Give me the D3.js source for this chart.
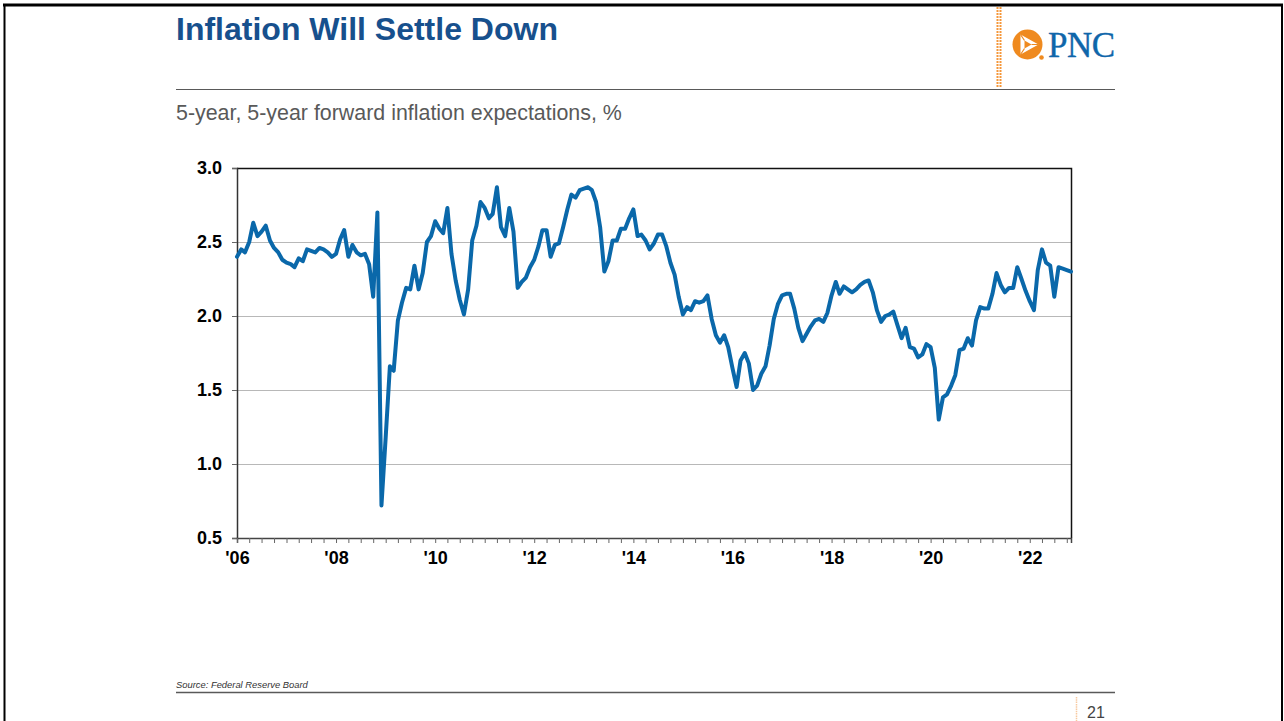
<!DOCTYPE html>
<html>
<head>
<meta charset="utf-8">
<script src="https://cdn.jsdelivr.net/npm/d3@7/dist/d3.min.js"></script>
<style>
  html, body { margin: 0; padding: 0; background: #fff; }
  svg { display: block; }
  text { font-family: "Liberation Sans", Arial, sans-serif; }
</style>
</head>
<body>
<svg id="chart" width="1284" height="721"></svg>
<script>
// ---------------- DATA ----------------
const startYear = 2006;
// Monthly 5y5y forward inflation expectations, Jan 2006 .. Nov 2022 (%)
const values = [
  2.40, 2.45, 2.43, 2.50, 2.63, 2.54, 2.57, 2.61, 2.51, 2.46, 2.43, 2.38,
  2.36, 2.35, 2.33, 2.39, 2.37, 2.45, 2.44, 2.43, 2.46, 2.45, 2.43, 2.40,
  2.42, 2.52, 2.58, 2.40, 2.48, 2.43, 2.41, 2.42, 2.35, 2.13, 2.70, 0.72,
  1.18, 1.66, 1.63, 1.97, 2.09, 2.19, 2.18, 2.34, 2.18, 2.29, 2.50, 2.54,
  2.64, 2.59, 2.56, 2.73, 2.42, 2.24, 2.11, 2.01, 2.18, 2.51, 2.61, 2.77,
  2.73, 2.66, 2.69, 2.87, 2.60, 2.54, 2.73, 2.57, 2.19, 2.23, 2.26, 2.33,
  2.38, 2.47, 2.58, 2.58, 2.40, 2.48, 2.49, 2.60, 2.72, 2.82, 2.80, 2.85,
  2.86, 2.87, 2.85, 2.77, 2.60, 2.30, 2.37, 2.51, 2.51, 2.59, 2.59, 2.66,
  2.72, 2.54, 2.55, 2.51, 2.45, 2.49, 2.55, 2.55, 2.47, 2.36, 2.28, 2.13,
  2.01, 2.06, 2.04, 2.10, 2.09, 2.10, 2.14, 1.98, 1.87, 1.82, 1.87, 1.79,
  1.65, 1.52, 1.70, 1.75, 1.68, 1.50, 1.53, 1.61, 1.66, 1.80, 1.98, 2.08,
  2.14, 2.15, 2.15, 2.05, 1.92, 1.83, 1.88, 1.93, 1.97, 1.98, 1.96, 2.02,
  2.14, 2.23, 2.15, 2.20, 2.18, 2.16, 2.18, 2.21, 2.23, 2.24, 2.16, 2.04,
  1.96, 2.00, 2.01, 2.03, 1.94, 1.85, 1.92, 1.79, 1.78, 1.72, 1.74, 1.81,
  1.79, 1.65, 1.30, 1.45, 1.47, 1.53, 1.60, 1.77, 1.78, 1.85, 1.80, 1.97,
  2.06, 2.05, 2.05, 2.15, 2.29, 2.21, 2.16, 2.19, 2.19, 2.33, 2.25, 2.17,
  2.10, 2.04, 2.31, 2.45, 2.36, 2.34, 2.13, 2.33, 2.32, 2.31, 2.30
];
const yTicks = [0.5, 1.0, 1.5, 2.0, 2.5, 3.0];
const xTickYears = [2006, 2008, 2010, 2012, 2014, 2016, 2018, 2020, 2022];
const xTickLabels = ["'06", "'08", "'10", "'12", "'14", "'16", "'18", "'20", "'22"];
const titleText = "Inflation Will Settle Down";
const subtitleText = "5-year, 5-year forward inflation expectations, %";
const sourceText = "Source: Federal Reserve Board";
const pageNumber = "21";

// ---------------- LAYOUT ----------------
const svg = d3.select("#chart");
const W = 1284, H = 721;
const plot = { left: 237, right: 1071, top: 168, bottom: 538 };

const data = values.map((v, i) => ({ date: new Date(startYear, i, 1), value: v }));

const x = d3.scaleTime()
  .domain([data[0].date, data[data.length - 1].date])
  .range([plot.left, plot.right]);
const y = d3.scaleLinear().domain([0.5, 3.0]).range([plot.bottom, plot.top]);

// slide border
svg.append("line").attr("x1", 3).attr("x2", 1283).attr("y1", 5).attr("y2", 5)
  .attr("stroke", "#000").attr("stroke-width", 3);
svg.append("line").attr("x1", 4.5).attr("x2", 4.5).attr("y1", 4).attr("y2", H)
  .attr("stroke", "#000").attr("stroke-width", 2);
svg.append("line").attr("x1", 1282).attr("x2", 1282).attr("y1", 4).attr("y2", H)
  .attr("stroke", "#000").attr("stroke-width", 2);

// title
svg.append("text").attr("x", 176).attr("y", 40)
  .attr("font-size", 32).attr("font-weight", "bold").attr("fill", "#17508d")
  .text(titleText);

// rule under title
svg.append("line").attr("x1", 176).attr("x2", 1115).attr("y1", 89.5).attr("y2", 89.5)
  .attr("stroke", "#595959").attr("stroke-width", 1.2);

// logo: dotted orange divider
[997.5, 1000.5].forEach(xx => {
  svg.append("line").attr("x1", xx).attr("x2", xx).attr("y1", 7).attr("y2", 87)
    .attr("stroke", "#f5973a").attr("stroke-width", 2).attr("stroke-dasharray", "2,1");
});
// logo mark
const lg = svg.append("g").attr("transform", "translate(1027.5,44.5)");
lg.append("circle").attr("r", 15).attr("fill", "#ef8a1f");
lg.append("path").attr("d", "M-7,-10 L11,0 L-7,10 Z").attr("fill", "#fff");
lg.append("path").attr("d", "M-3,-4 L4,0 L-3,4 Z").attr("fill", "#ef8a1f");
lg.append("path").attr("d", "M-7,-10 L-3,-4 M11,0 L4,0 M-7,10 L-3,4")
  .attr("stroke", "#ef8a1f").attr("stroke-width", 1.2);
lg.append("circle").attr("cx", 14).attr("cy", 13).attr("r", 2.3).attr("fill", "#ef8a1f");
svg.append("text").attr("x", 1048).attr("y", 57)
  .style("font-family", "'Liberation Serif', 'Times New Roman', serif")
  .attr("font-size", 35).attr("fill", "#0f66aa").attr("letter-spacing", "-0.5")
  .attr("stroke", "#0f66aa").attr("stroke-width", 0.4)
  .text("PNC");

// subtitle
svg.append("text").attr("x", 176).attr("y", 120)
  .attr("font-size", 21.4).attr("fill", "#595959")
  .text(subtitleText);

// gridlines
svg.append("g").selectAll("line")
  .data(yTicks.filter(t => t > 0.5 && t < 3.0))
  .join("line")
  .attr("x1", plot.left).attr("x2", plot.right)
  .attr("y1", d => Math.round(y(d)) + 0.5).attr("y2", d => Math.round(y(d)) + 0.5)
  .attr("stroke", "#b8b8b8").attr("stroke-width", 1.2);

// plot frame (top & right)
svg.append("path")
  .attr("d", `M${plot.left},${plot.top + 0.5} H${plot.right + 0.5} V${plot.bottom}`)
  .attr("fill", "none").attr("stroke", "#111").attr("stroke-width", 1.5);

// y axis
const yAxis = d3.axisLeft(y).tickValues(yTicks).tickFormat(d3.format(".1f"))
  .tickSize(5).tickPadding(10);
const gy = svg.append("g").attr("transform", `translate(${plot.left},0)`).call(yAxis);
gy.select(".domain").attr("stroke", "#333").attr("stroke-width", 1.5);
gy.selectAll(".tick line").attr("stroke", "#666");
gy.selectAll(".tick text").attr("font-size", 18).attr("font-weight", "bold")
  .attr("fill", "#000").style("font-family", "'Liberation Sans', Arial, sans-serif");

// x axis: quarterly minor ticks
const quarterTicks = d3.timeMonth.every(3).range(x.domain()[0], d3.timeMonth.offset(x.domain()[1], 1));
const xAxisMinor = d3.axisBottom(x).tickValues(quarterTicks).tickSize(5).tickFormat("");
const gxm = svg.append("g").attr("transform", `translate(0,${plot.bottom})`).call(xAxisMinor);
gxm.select(".domain").attr("stroke", "#444").attr("stroke-width", 1.5);
gxm.selectAll(".tick line").attr("stroke", "#666");

const xAxisLabels = d3.axisBottom(x)
  .tickValues(xTickYears.map(yr => new Date(yr, 0, 1)))
  .tickFormat((d, i) => xTickLabels[i]).tickSize(0).tickPadding(13);
const gx = svg.append("g").attr("transform", `translate(0,${plot.bottom})`).call(xAxisLabels);
gx.select(".domain").remove();
gx.selectAll(".tick text").attr("font-size", 18).attr("font-weight", "bold")
  .attr("fill", "#000").style("font-family", "'Liberation Sans', Arial, sans-serif");

// line
const line = d3.line().x(d => x(d.date)).y(d => y(d.value));
svg.append("path").datum(data)
  .attr("d", line).attr("fill", "none")
  .attr("stroke", "#0a68aa").attr("stroke-width", 4)
  .attr("stroke-linejoin", "round").attr("stroke-linecap", "round");

// footer
svg.append("text").attr("x", 176).attr("y", 688)
  .attr("font-size", 9.4).attr("font-style", "italic").attr("fill", "#333")
  .text(sourceText);
svg.append("line").attr("x1", 176).attr("x2", 1115).attr("y1", 692.5).attr("y2", 692.5)
  .attr("stroke", "#595959").attr("stroke-width", 1.3);
svg.append("line").attr("x1", 1076.5).attr("x2", 1076.5).attr("y1", 697).attr("y2", 721)
  .attr("stroke", "#f8c9a0").attr("stroke-width", 1.5).attr("stroke-dasharray", "1.5,0.8");
svg.append("text").attr("x", 1087).attr("y", 718)
  .attr("font-size", 16).attr("fill", "#444")
  .text(pageNumber);
</script>
</body>
</html>
